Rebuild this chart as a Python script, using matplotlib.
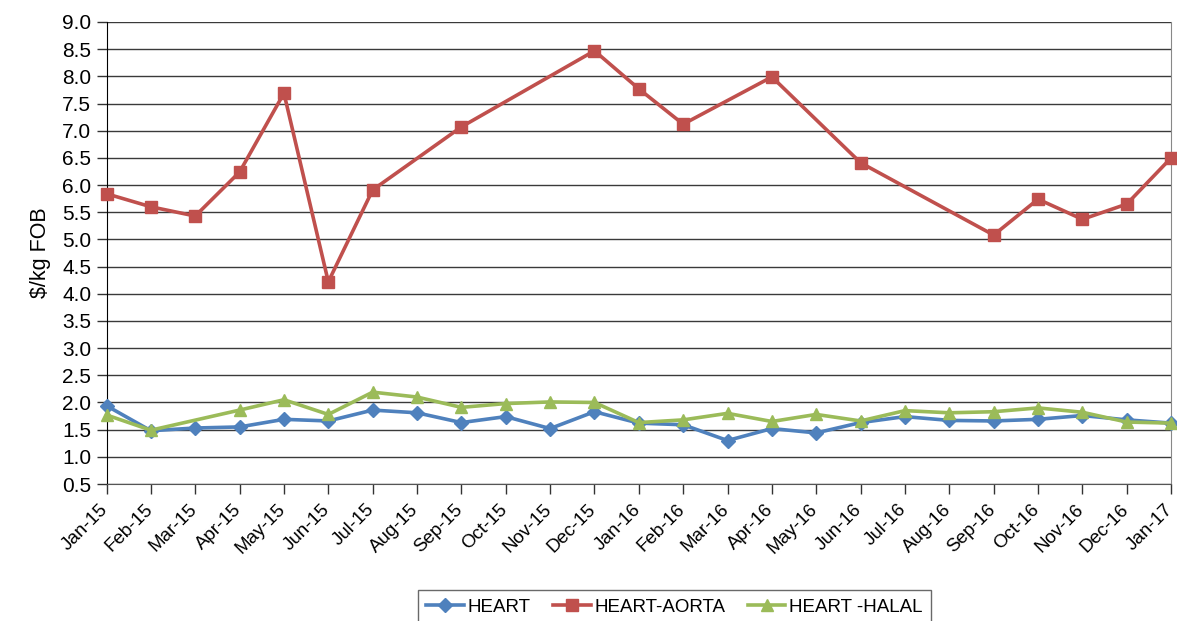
import numpy as np
import matplotlib
matplotlib.use("Agg")
import matplotlib.pyplot as plt
import matplotlib.transforms as mtransforms

plt.rcParams['font.family'] = ['Liberation Sans', 'DejaVu Sans']

months = ["Jan-15", "Feb-15", "Mar-15", "Apr-15", "May-15", "Jun-15", "Jul-15", "Aug-15",
          "Sep-15", "Oct-15", "Nov-15", "Dec-15", "Jan-16", "Feb-16", "Mar-16", "Apr-16",
          "May-16", "Jun-16", "Jul-16", "Aug-16", "Sep-16", "Oct-16", "Nov-16", "Dec-16", "Jan-17"]

heart = [1.94, 1.48, 1.53, 1.55, 1.69, 1.66, 1.86, 1.81, 1.63, 1.74, 1.52, 1.83, 1.62,
         1.59, 1.30, 1.52, 1.44, 1.63, 1.74, 1.67, 1.66, 1.69, 1.76, 1.68, 1.62]
nan = np.nan
heart_aorta = [5.84, 5.60, 5.43, 6.24, 7.69, 4.22, 5.91, nan, 7.07, nan, nan, 8.47, 7.77,
               7.12, nan, 7.99, nan, 6.41, nan, nan, 5.08, 5.74, 5.37, 5.65, 6.50]
heart_halal = [1.77, 1.49, nan, 1.86, 2.05, 1.78, 2.19, 2.10, 1.91, 1.98, 2.01, 2.00, 1.63,
               1.68, 1.80, 1.65, 1.78, 1.66, 1.85, 1.81, 1.83, 1.90, 1.82, 1.64, 1.62]

fig = plt.figure(figsize=(11.77, 6.21), dpi=100)
ax = fig.add_axes([0.0905, 0.2206, 0.9045, 0.744])

x = np.arange(len(months))

def plot_series(vals, color, marker, ms, label):
    v = np.array(vals, dtype=float)
    m = ~np.isnan(v)
    ax.plot(x[m], v[m], color=color, lw=2.6, marker=marker, ms=ms,
            markeredgecolor=color, label=label, clip_on=False, zorder=3)

plot_series(heart, '#4F81BD', 'D', 7, 'HEART')
plot_series(heart_aorta, '#C0504D', 's', 8.5, 'HEART-AORTA')
plot_series(heart_halal, '#9BBB59', '^', 9, 'HEART -HALAL')

ax.set_xlim(0, len(months) - 1)
ax.set_ylim(0.5, 9.0)
yt = np.arange(0.5, 9.01, 0.5)
ax.set_yticks(yt)
ax.set_yticklabels([f"{t:.1f}" for t in yt], fontsize=15)
ax.set_xticks(x)
ax.set_xticklabels([])
lbl_tr = ax.get_xaxis_transform() + mtransforms.ScaledTranslation(-7 / 100, -17 / 100, fig.dpi_scale_trans)
for xi, m in zip(x, months):
    ax.text(xi, 0, m, transform=lbl_tr, rotation=45, ha='right', va='top',
            rotation_mode='anchor', fontsize=13.5, clip_on=False)

ax.yaxis.grid(True, color='#3a3a3a', lw=1.0)
ax.set_axisbelow(True)

ax.spines['top'].set_visible(False)
ax.spines['right'].set_color('#888888')
ax.spines['left'].set_color('black')
ax.spines['bottom'].set_color('#555555')
ax.tick_params(axis='both', direction='out', length=7, width=1, color='#333333')
ax.tick_params(axis='y', pad=4)

ax.set_ylabel("$/kg FOB", fontsize=15.5, labelpad=8)

leg = fig.legend(loc='lower center', bbox_to_anchor=(0.573, -0.02), ncol=3, fontsize=13.5,
                 frameon=True, fancybox=False, edgecolor='#444444', handlelength=2.0,
                 columnspacing=1.2, handletextpad=0.2, borderpad=0.45)
leg.get_frame().set_linewidth(1.0)

fig.savefig("out.png", dpi=100)
